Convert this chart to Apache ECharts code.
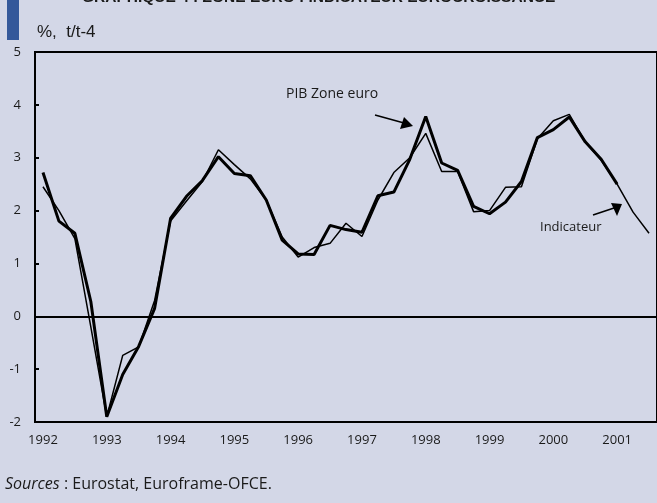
<!DOCTYPE html>
<html>
<head>
<meta charset="utf-8">
<script src="https://cdn.jsdelivr.net/npm/echarts@6/dist/echarts.min.js"></script>
<style>
html, body { margin: 0; padding: 0; background: #d3d7e7; }
#chart { width: 657px; height: 503px; }
</style>
</head>
<body>
<div id="chart"></div>
<script>
// trimestres 1992T1 .. 2001T3
var years = ['1992', '1993', '1994', '1995', '1996', '1997', '1998', '1999', '2000', '2001'];
var quarters = [];
for (var y = 0; y < years.length; y++) {
    for (var q = 1; q <= 4; q++) {
        if (years[y] === '2001' && q > 3) break;
        quarters.push(years[y] + 'T' + q);
    }
}

// PIB zone euro, %, t/t-4
var pib = [2.72, 1.8, 1.57, 0.28, -1.9, -1.1, -0.57, 0.15,
    1.85, 2.27, 2.57, 3.02, 2.7, 2.66, 2.2, 1.44,
    1.18, 1.17, 1.72, 1.64, 1.59, 2.28, 2.35, 2.97,
    3.78, 2.9, 2.76, 2.08, 1.94, 2.16, 2.55, 3.38,
    3.53, 3.77, 3.3, 2.97, 2.5, null, null];

// Indicateur Eurocroissance
var indicateur = [2.45, 2.0, 1.47, -0.2, -1.9, -0.74, -0.58, 0.3,
    1.8, 2.18, 2.55, 3.15, 2.87, 2.6, 2.2, 1.5,
    1.12, 1.3, 1.38, 1.76, 1.51, 2.2, 2.72, 3.0,
    3.46, 2.74, 2.74, 1.98, 2.0, 2.44, 2.45, 3.36,
    3.7, 3.82, 3.3, 2.95, 2.5, 1.97, 1.57];

var myChart = echarts.init(document.getElementById('chart'));

var txt = '#1a1a1a';
var labelFont = "'Open Sans', sans-serif";

myChart.setOption({
    backgroundColor: '#d3d7e7',
    animation: false,
    grid: {
        left: 35,
        top: 52,
        width: 624,
        height: 370,
        show: true,
        borderColor: '#000',
        borderWidth: 2,
        backgroundColor: 'transparent'
    },
    xAxis: {
        type: 'category',
        data: quarters,
        boundaryGap: true,
        axisLine: { lineStyle: { color: '#000', width: 2 } },
        axisTick: { inside: true, interval: 3, length: 5, lineStyle: { color: '#000', width: 2 } },
        axisLabel: {
            interval: 3,
            margin: 12,
            color: txt,
            fontFamily: labelFont,
            fontSize: 13,
            formatter: function (v) { return v.slice(0, 4); }
        },
        splitLine: { show: false }
    },
    yAxis: {
        type: 'value',
        min: -2,
        max: 5,
        interval: 1,
        axisLine: { show: true, lineStyle: { color: '#000', width: 2 } },
        axisTick: { show: true, inside: true, length: 4, lineStyle: { color: '#000', width: 2 } },
        axisLabel: { margin: 14, color: txt, fontFamily: labelFont, fontSize: 13 },
        splitLine: { show: false }
    },
    series: [{
        name: 'Indicateur',
        type: 'line',
        data: indicateur,
        symbol: 'none',
        lineStyle: { color: '#000', width: 1.5 },
        markLine: {
            silent: true,
            symbol: 'none',
            label: { show: false },
            lineStyle: { color: '#000', width: 2, type: 'solid' },
            data: [[{ coord: [quarters[0], 0] }, { coord: [quarters[quarters.length - 1], 0] }]]
        }
    }, {
        name: 'PIB Zone euro',
        type: 'line',
        data: pib,
        symbol: 'none',
        lineStyle: { color: '#000', width: 3 }
    }],
    graphic: [
        // bandeau bleu du titre
        { type: 'rect', left: 7, top: 0, shape: { width: 12, height: 40 }, style: { fill: '#34589a' } },
        {
            type: 'text', left: 82, top: -10,
            style: {
                text: 'GRAPHIQUE 4 : ZONE EURO : INDICATEUR EUROCROISSANCE',
                font: "bold 15.5px 'Liberation Sans', sans-serif",
                fill: '#1a1a1a'
            }
        },
        {
            type: 'text', left: 37, top: 24,
            style: {
                text: '%,  t/t-4',
                font: "17px 'Liberation Sans Narrow', 'Liberation Sans', sans-serif",
                fill: txt
            }
        },
        {
            type: 'text', left: 286, top: 87,
            style: { text: 'PIB Zone euro', font: "14px 'Open Sans', sans-serif", fill: txt }
        },
        { type: 'line', shape: { x1: 375, y1: 115, x2: 404, y2: 123 }, style: { stroke: '#000', lineWidth: 1.5 } },
        { type: 'polygon', shape: { points: [[413, 126], [400, 129], [404, 117]] }, style: { fill: '#000' } },
        {
            type: 'text', left: 540, top: 221,
            style: { text: 'Indicateur', font: "13px 'Open Sans', sans-serif", fill: txt }
        },
        { type: 'line', shape: { x1: 593, y1: 215, x2: 614, y2: 208 }, style: { stroke: '#000', lineWidth: 1.5 } },
        { type: 'polygon', shape: { points: [[622, 204], [617, 216], [611, 203]] }, style: { fill: '#000' } },
        {
            type: 'text', left: 5, top: 476,
            style: {
                text: '{i|Sources} : Eurostat, Euroframe-OFCE.',
                font: "16px 'Open Sans', sans-serif",
                fill: txt,
                rich: {
                    i: { fontStyle: 'italic', fontSize: 16, fontFamily: 'Open Sans', fill: txt }
                }
            }
        }
    ]
});
</script>
</body>
</html>
